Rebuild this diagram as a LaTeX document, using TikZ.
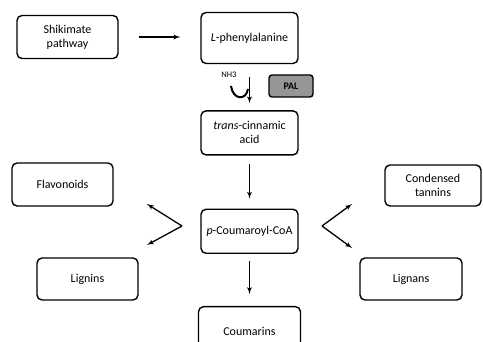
\documentclass[tikz,border=0pt]{standalone}
\usepackage{fontspec}
\setmainfont{Carlito}
\usetikzlibrary{arrows, positioning}
\definecolor{palgray}{RGB}{150,150,150}

\begin{document}
\begin{tikzpicture}[
    x=1pt, y=-1pt,
    box/.style={rectangle, draw, line width=1.4pt, rounded corners=5pt, minimum width=97pt, minimum height=44pt, align=center, font=\fontsize{12}{14}\selectfont},
    line/.style={draw, line width=1.3pt, -latex'},
    small/.style={font=\fontsize{9}{10}\selectfont}
]
    \useasboundingbox (0,0) rectangle (483,342);

    % Main pathway
    \node [box, minimum width=101pt, minimum height=43pt] (shik) at (67.5,37) {Shikimate\\pathway};
    \node [box, minimum height=51pt] (phe) at (249.5,38) {\textit{L}-phenylalanine};
    \node [box, below=46pt of phe] (cinn) {\textit{trans}-cinnamic\\acid};
    \node [box, below=53pt of cinn] (cou) {\textit{p}-Coumaroyl-CoA};
    \node [box, minimum width=102pt, minimum height=50pt, below=52pt of cou] (coum) {Coumarins};

    % Side products
    \node [box, minimum width=101pt, minimum height=43pt] (flav) at (62.5,184.5) {Flavonoids};
    \node [box, minimum width=96pt, minimum height=41pt] (tann) at (433,185.5) {Condensed\\tannins};
    \node [box, minimum width=101pt, minimum height=42pt] (lignin) at (87.5,279) {Lignins};
    \node [box, minimum width=102pt, minimum height=42pt] (lignan) at (411,279) {Lignans};

    % Enzyme
    \node [rectangle, draw, line width=1.4pt, rounded corners=3pt, fill=palgray, minimum width=44pt, minimum height=22pt, small, font=\bfseries] (pal) at (291,86) {PAL};
    \node [small, font=\fontsize{8.5}{9}\selectfont] (nh) at (229,75) {NH3};

    % Connect nodes
    \path [line, shorten <=20pt, shorten >=20pt] (shik) -- (shik -| phe.west);
    \path [line, shorten <=13pt, shorten >=7pt] (phe) -- (cinn);
    \path [line, shorten <=8pt, shorten >=10pt] (cinn) -- (cou);
    \path [line, shorten <=7pt, shorten >=12pt] (cou) -- (coum);

    % NH3 release
    \coordinate (hookA) at (231,86);
    \coordinate (hookB) at (248,89);
    \draw [line width=2pt] (hookA) .. controls (233,100) and (246,101) .. (hookB);

    % Branches
    \coordinate (lapex) at (182,226);
    \coordinate (lup) at (147,204);
    \coordinate (ldown) at (147,245);
    \coordinate (rapex) at (322,226);
    \coordinate (rup) at (352,204);
    \coordinate (rdown) at (352,248);
    \path [line] (lapex) -- (lup);
    \path [line] (lapex) -- (ldown);
    \path [line] (rapex) -- (rup);
    \path [line] (rapex) -- (rdown);

\end{tikzpicture}
\end{document}
